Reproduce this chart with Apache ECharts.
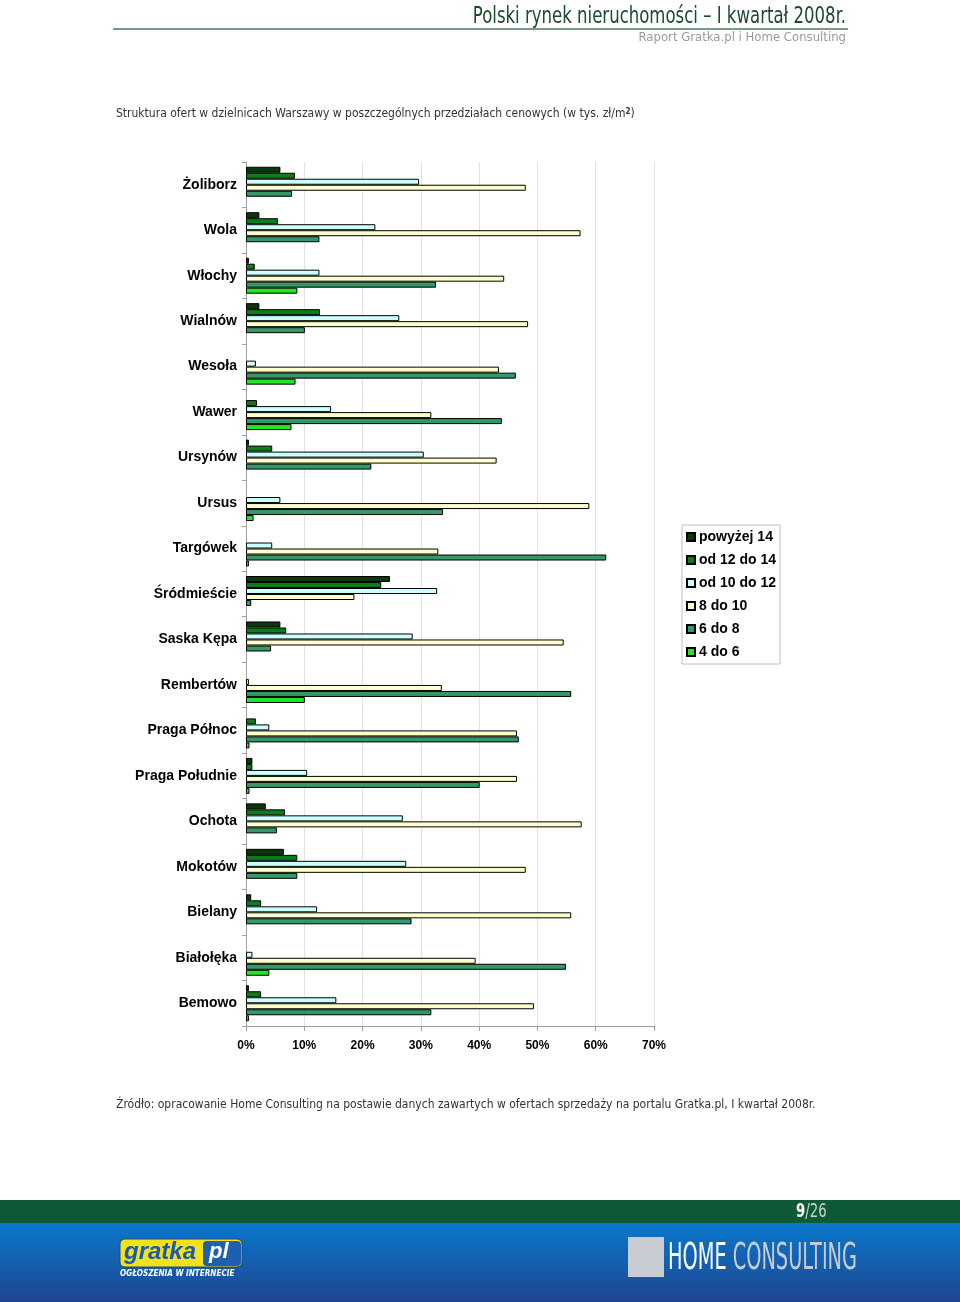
<!DOCTYPE html>
<html>
<head>
<meta charset="utf-8">
<script src="https://cdn.jsdelivr.net/npm/echarts@6/dist/echarts.min.js"></script>
<style>
html,body{margin:0;padding:0;background:#fff;}
#chart{width:960px;height:1302px;}
</style>
</head>
<body>
<div id="chart"></div>
<script>
const districts = ["Żoliborz","Wola","Włochy","Wialnów","Wesoła","Wawer","Ursynów","Ursus","Targówek","Śródmieście","Saska Kępa","Rembertów","Praga Północ","Praga Południe","Ochota","Mokotów","Bielany","Białołęka","Bemowo"];
const seriesNames = ["powyżej 14","od 12 do 14","od 10 do 12","8 do 10","6 do 8","4 do 6"];
const above14    = [5.9, 2.3, 0.5, 2.3, 0,   0,   0.5, 0,   0,   24.7, 5.9, 0,   0,   1.1, 3.4, 6.5, 0.9, 0,   0.5];
const from12to14 = [8.4, 5.5, 1.5, 12.7,0,   1.9, 4.5, 0,   0,   23.2, 6.9, 0,   1.7, 1.1, 6.7, 8.8, 2.6, 0,   2.6];
const from10to12 = [29.7,22.2,12.6,26.3,1.7, 14.6,30.5,5.9, 4.5, 32.8, 28.6,0.5, 4.0, 10.5,26.9,27.5,12.2,1.1, 15.5];
const from8to10  = [48.0,57.4,44.3,48.4,43.4,31.8,43.0,58.9,33.0,18.6, 54.5,33.6,46.5,46.5,57.6,48.0,55.8,39.4,49.4];
const from6to8   = [7.9, 12.6,32.6,10.1,46.3,43.9,21.5,33.8,61.8,0.9,  4.3, 55.8,46.8,40.1,5.3, 8.8, 28.4,54.9,31.8];
const from4to6   = [0,   0,   8.8, 0,   8.5, 7.8, 0,   1.3, 0.5, 0,    0,   10.1,0.6, 0.6, 0,   0,   0,   4.0, 0.5];
const xTicks = [0,10,20,30,40,50,60,70];
const colors = ["#0a3a0a","#0b7d1a","#ccffff","#ffffcc","#339966","#22e622"];
const allData = [above14, from12to14, from10to12, from8to10, from6to8, from4to6];

const chart = echarts.init(document.getElementById('chart'), null, {renderer:'canvas'});
const cond = '"DejaVu Sans Condensed","Liberation Sans Narrow",sans-serif';
const arial = '"Liberation Sans",Arial,sans-serif';

const option = {
  animation:false,
  backgroundColor:'#ffffff',
  title:{
    text:'{t|Struktura ofert w dzielnicach Warszawy w poszczególnych przedziałach cenowych (w tys. zł/m}{s|2}{t|)}',
    left:116, top:108, padding:0,
    textStyle:{rich:{
      t:{fontFamily:cond,fontSize:12,color:'#333',fontWeight:'normal'},
      s:{fontFamily:cond,fontSize:8,color:'#333',verticalAlign:'top',lineHeight:10,padding:[0,0,6,0]}
    }}
  },
  legend:{
    orient:'vertical', left:682, top:525,
    itemWidth:8, itemHeight:8, itemGap:9,
    padding:[5,4,5,4],
    borderColor:'#c0c0c0', borderWidth:1,
    backgroundColor:'#fff',
    icon:'rect',
    textStyle:{fontFamily:arial,fontWeight:'bold',fontSize:14,color:'#000',lineHeight:14,padding:[0,0,0,-1]},
    data:seriesNames
  },
  grid:{left:246,right:306,top:162,bottom:276,containLabel:false},
  xAxis:{
    type:'value', min:0, max:70, interval:10,
    axisLine:{show:true,lineStyle:{color:'#a0a0a0',width:1}},
    axisTick:{show:true,length:5,lineStyle:{color:'#a0a0a0'}},
    splitLine:{show:true,lineStyle:{color:'#e2e2e2',width:1}},
    axisLabel:{formatter:function(v){return xTicks.indexOf(v)>=0? v+'%':'';},margin:14,fontFamily:arial,fontWeight:'bold',fontSize:12,color:'#000'}
  },
  yAxis:{
    type:'category', inverse:true, data:districts,
    axisLine:{show:true,lineStyle:{color:'#a0a0a0',width:1}},
    axisTick:{show:true,length:4,inside:false,lineStyle:{color:'#a0a0a0'}},
    axisLabel:{margin:9,fontFamily:arial,fontWeight:'bold',fontSize:14,color:'#000'},
    splitLine:{show:false}
  },
  series: seriesNames.map(function(n,i){
    return {
      name:n, type:'bar',
      data:allData[i].map(function(v){return v===0?'-':v;}),
      barWidth:6, barGap:'0%',
      itemStyle:{color:colors[i],borderColor:'#000',borderWidth:1},
      emphasis:{disabled:true}
    };
  }),
  graphic:[
    {type:'text',x:846,y:6,scaleX:0.80,style:{text:'Polski rynek nieruchomości – I kwartał 2008r.',font:'normal 23px '+cond,fill:'#1b4a2c',align:'right',verticalAlign:'top'}},
    {type:'line',shape:{x1:113,y1:29,x2:848,y2:29},style:{stroke:'#4f7a60',lineWidth:1.5}},
    {type:'text',x:846,y:31,style:{text:'Raport Gratka.pl i Home Consulting',font:'normal 13px '+cond,fill:'#9a9a9a',align:'right',verticalAlign:'top'}},
    {type:'text',x:116,y:1099,style:{text:'Źródło: opracowanie Home Consulting na postawie danych zawartych w ofertach sprzedaży na portalu Gratka.pl, I kwartał 2008r.',font:'normal 12px '+cond,fill:'#333',verticalAlign:'top'}},
    {type:'rect',shape:{x:0,y:1200,width:960,height:23},style:{fill:'#0e5a36'}},
    {type:'rect',shape:{x:0,y:1223,width:960,height:79},style:{fill:new echarts.graphic.LinearGradient(0,0,0,1,[{offset:0,color:'#0a78cc'},{offset:1,color:'#1f4590'}])}},
    {type:'text',x:796,y:1202,scaleX:0.74,style:{text:'{a|9}{b|/26}',verticalAlign:'top',rich:{a:{font:'bold 20px '+cond,fill:'#fff'},b:{font:'normal 20px '+cond,fill:'#c8d8cf'}}}},
    {type:'rect',shape:{x:120,y:1239,width:122,height:28,r:5},style:{fill:'#f3e11a',stroke:'#1e4a8a',lineWidth:1}},
    {type:'text',x:124,y:1240,style:{text:'gratka',font:'italic bold 24px '+arial,fill:'#1a5ab0',verticalAlign:'top'}},
    {type:'rect',shape:{x:203,y:1241,width:38,height:25,r:4},style:{fill:'#1e5fb0'}},
    {type:'text',x:209,y:1241,style:{text:'pl',font:'italic bold 22px '+arial,fill:'#fff',verticalAlign:'top'}},
    {type:'text',x:120,y:1269,scaleX:0.9,style:{text:'OGŁOSZENIA W INTERNECIE',font:'italic bold 9px '+cond,fill:'#fff',verticalAlign:'top'}},
    {type:'rect',shape:{x:628,y:1237,width:36,height:40},style:{fill:'#c9ccd2'}},
    {type:'text',x:668,y:1240,scaleX:0.565,style:{text:'{a|HOME}{b| CONSULTING}',verticalAlign:'top',rich:{a:{font:'normal 38px '+cond,fill:'#fff'},b:{font:'normal 38px '+cond,fill:'#c6ccd4'}}}}
  ]
};
chart.setOption(option);
</script>
</body>
</html>
